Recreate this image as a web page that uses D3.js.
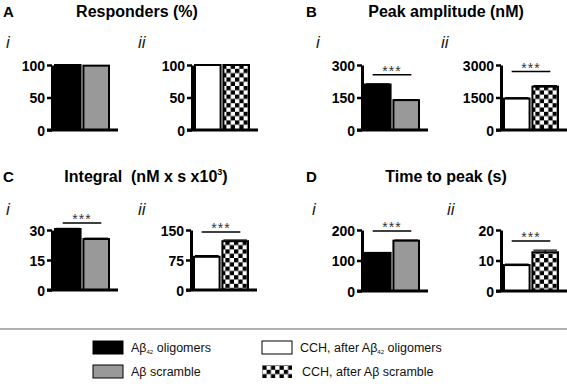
<!DOCTYPE html>
<html>
<head>
<meta charset="utf-8">
<script src="https://cdn.jsdelivr.net/npm/d3@7"></script>
<style>
  html, body { margin: 0; padding: 0; background: #fff; }
  svg { display: block; font-family: "Liberation Sans", Arial, sans-serif; }
  .tick text { font-family: "Liberation Sans", Arial, sans-serif; font-weight: bold; font-size: 14px; fill: #000; }
  .title { white-space: pre; }
</style>
</head>
<body>
<svg id="fig" width="567" height="387"></svg>
<script>
// ---- data ----
const panelLetters = ["A", "B", "C", "D"];
const panelTitles = ["Responders (%)", "Peak amplitude (nM)", "Integral  (nM x s x10", "Time to peak (s)"];
const subLabels = ["i", "ii"];

const groupsI = ["Aβ42 oligomers", "Aβ scramble"];
const groupsII = ["CCH, after Aβ42 oligomers", "CCH, after Aβ scramble"];

const respI = [100, 99],   respII = [100, 100];
const respErrI = [0, 0],   respErrII = [0, 0];
const peakI = [210, 138],  peakII = [1450, 2000];
const peakErrI = [3, 2],   peakErrII = [40, 50];
const intI = [30.5, 25.5], intII = [83, 122];
const intErrI = [0.3, 0.4], intErrII = [3, 3];
const ttpI = [125, 165],   ttpII = [8.5, 12.7];
const ttpErrI = [1, 2],    ttpErrII = [0.3, 0.7];

const respTicks = [0, 50, 100];
const peakTicksI = [0, 150, 300], peakTicksII = [0, 1500, 3000];
const intTicksI = [0, 15, 30],    intTicksII = [0, 75, 150];
const ttpTicksI = [0, 100, 200],  ttpTicksII = [0, 10, 20];

// height of the "***" bracket, in data units (null = no bracket)
const sigI = [null, 255, 33.5, 197];
const sigII = [null, 2700, 145, 16.4];

// ---- layout ----
const svg = d3.select("#fig");
const defs = svg.append("defs");
const fills = ["#000", "#999", "#fff", "url(#checker)"];

const cell = 4.3;
const pat = defs.append("pattern").attr("id", "checker")
  .attr("patternUnits", "userSpaceOnUse")
  .attr("width", cell * 2).attr("height", cell * 2);
pat.append("rect").attr("width", cell * 2).attr("height", cell * 2).attr("fill", "#fff");
pat.append("rect").attr("width", cell).attr("height", cell).attr("fill", "#000");
pat.append("rect").attr("x", cell).attr("y", cell).attr("width", cell).attr("height", cell).attr("fill", "#000");

// panel origins: letter / title positions and the two sub-plots
const panels = [
  { lx: 3,   ly: 17,  tx: 137, axes: [52, 192],  subX: [6, 138],   subY: 48,  top: 65,  bot: 130 },
  { lx: 306, ly: 17,  tx: 446, axes: [362, 501], subX: [316, 441], subY: 48,  top: 65,  bot: 130 },
  { lx: 3,   ly: 182, tx: 146, axes: [52, 191],  subX: [6, 138],   subY: 215, top: 230, bot: 290 },
  { lx: 306, ly: 182, tx: 446, axes: [362, 501], subX: [312, 447], subY: 215, top: 230, bot: 291 }
];

const panelData = [
  [[respI, respErrI, respTicks], [respII, respErrII, respTicks]],
  [[peakI, peakErrI, peakTicksI], [peakII, peakErrII, peakTicksII]],
  [[intI, intErrI, intTicksI], [intII, intErrII, intTicksII]],
  [[ttpI, ttpErrI, ttpTicksI], [ttpII, ttpErrII, ttpTicksII]]
];

panels.forEach((p, pi) => {
  svg.append("text").attr("x", p.lx).attr("y", p.ly)
    .attr("font-size", 15).attr("font-weight", "bold").text(panelLetters[pi]);
  const t = svg.append("text").attr("class", "title").attr("x", p.tx).attr("y", p.ly)
    .attr("text-anchor", "middle").attr("font-size", 16).attr("font-weight", "bold")
    .text(panelTitles[pi]);
  if (pi === 2) {
    t.append("tspan").attr("font-size", 9).attr("dy", -7).text("3");
    t.append("tspan").attr("dy", 7).text(")");
  }

  [0, 1].forEach(si => {
    const [vals, errs, ticks] = panelData[pi][si];
    const groups = si === 0 ? groupsI : groupsII;
    const ax = p.axes[si];

    svg.append("text").attr("x", p.subX[si]).attr("y", p.subY)
      .attr("font-size", 17).attr("font-style", "italic").attr("fill", "#222")
      .text(subLabels[si]);

    const g = svg.append("g").attr("transform", `translate(${ax},0)`);
    const x = d3.scaleBand().domain(groups).range([3, 57]).paddingInner(0.1).paddingOuter(0);
    const y = d3.scaleLinear().domain([0, d3.max(ticks)]).range([p.bot, p.top]);

    // bars
    g.selectAll("rect.bar").data(groups).join("rect").attr("class", "bar")
      .attr("x", d => x(d)).attr("width", x.bandwidth())
      .attr("y", (d, i) => y(vals[i])).attr("height", (d, i) => y(0) - y(vals[i]))
      .attr("fill", (d, i) => fills[si * 2 + i])
      .attr("stroke", "#000").attr("stroke-width", 2);

    // error bars (upper only)
    groups.forEach((d, i) => {
      if (!errs[i]) return;
      const cx = x(d) + x.bandwidth() / 2;
      g.append("line").attr("x1", cx).attr("x2", cx)
        .attr("y1", y(vals[i])).attr("y2", y(vals[i] + errs[i]))
        .attr("stroke", "#000").attr("stroke-width", 1.2);
      g.append("line").attr("x1", x(d) + 1).attr("x2", x(d) + x.bandwidth() - 1)
        .attr("y1", y(vals[i] + errs[i])).attr("y2", y(vals[i] + errs[i]))
        .attr("stroke", "#000").attr("stroke-width", 1.2);
    });

    // axes
    const yAxis = d3.axisLeft(y).tickValues(ticks).tickFormat(d3.format("d"))
      .tickSize(5).tickPadding(2).tickSizeOuter(0);
    const ya = g.append("g").call(yAxis);
    ya.select(".domain").attr("stroke-width", 3);
    ya.selectAll(".tick line").attr("stroke-width", 2.5);
    ya.selectAll(".tick text").attr("dy", "0.36em");
    g.append("line").attr("x1", -5).attr("x2", 66)
      .attr("y1", y(0)).attr("y2", y(0))
      .attr("stroke", "#000").attr("stroke-width", 3);

    // significance bracket
    const sig = si === 0 ? sigI[pi] : sigII[pi];
    if (sig !== null) {
      const x0 = x(groups[0]) + x.bandwidth() * 0.3;
      const x1 = x(groups[1]) + x.bandwidth() * 0.7;
      g.append("line").attr("x1", x0).attr("x2", x1)
        .attr("y1", y(sig)).attr("y2", y(sig))
        .attr("stroke", "#000").attr("stroke-width", 1.5);
      g.append("text").attr("x", (x0 + x1) / 2).attr("y", y(sig) + 1)
        .attr("text-anchor", "middle").attr("font-size", 14).attr("letter-spacing", 1)
        .attr("fill", "#333").text("***");
    }
  });
});

// ---- legend ----
svg.append("line").attr("x1", 0).attr("x2", 567).attr("y1", 329).attr("y2", 329)
  .attr("stroke", "#999").attr("stroke-width", 1.5);

const legendItems = [groupsI[0], groupsI[1], groupsII[0], groupsII[1]];
const legendCol = [93, 93, 262, 262];
const legendRow = [341, 365, 341, 365];
const legendText = [131, 131, 300, 302];

legendItems.forEach((name, i) => {
  svg.append("rect").attr("x", legendCol[i]).attr("y", legendRow[i])
    .attr("width", 30).attr("height", 13)
    .attr("fill", fills[i]).attr("stroke", i === 3 ? "none" : "#000").attr("stroke-width", 1);
  const txt = svg.append("text").attr("x", legendText[i]).attr("y", legendRow[i] + 11)
    .attr("font-size", 12.5).attr("fill", "#111");
  const parts = name.split("42");
  txt.append("tspan").text(parts[0]);
  if (parts.length > 1) {
    txt.append("tspan").attr("font-size", 6).attr("dy", 2).text("42");
    txt.append("tspan").attr("dy", -2).text(parts[1]);
  }
});
</script>
</body>
</html>
